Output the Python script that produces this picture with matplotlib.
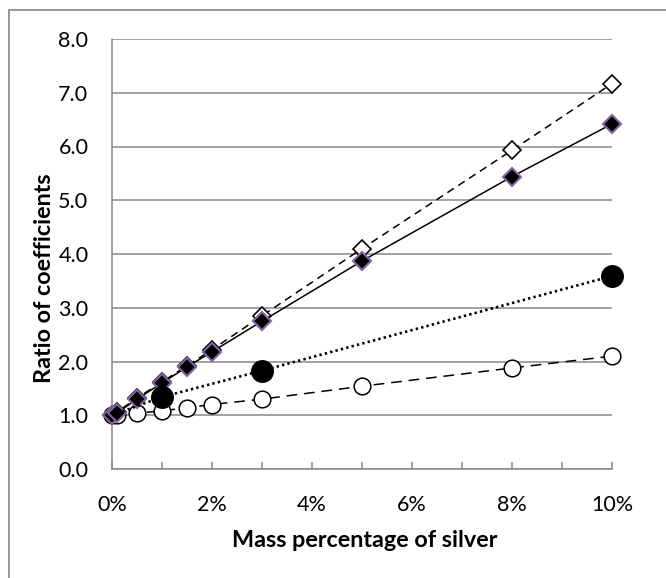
import matplotlib
matplotlib.use('Agg')
import matplotlib.pyplot as plt
from matplotlib.patches import Rectangle
from matplotlib.ticker import MultipleLocator, FuncFormatter

# Mass percentage of silver (%)
x_all = [0, 0.1, 0.5, 1, 1.5, 2, 3, 5, 8, 10]
x_filled_circle = [0, 1, 3, 10]

open_diamond = [1.00, 1.06, 1.32, 1.62, 1.92, 2.22, 2.85, 4.10, 5.93, 7.17]
filled_diamond = [1.00, 1.04, 1.30, 1.60, 1.90, 2.18, 2.75, 3.87, 5.44, 6.42]
filled_circle = [1.00, 1.34, 1.83, 3.59]
open_circle = [1.00, 1.00, 1.04, 1.08, 1.14, 1.20, 1.30, 1.54, 1.88, 2.10]

x_ticks = [0, 2, 4, 6, 8, 10]
y_ticks = [0, 1, 2, 3, 4, 5, 6, 7, 8]

plt.rcParams['font.family'] = ['Lato', 'DejaVu Sans']

grid_gray = '#888888'
purple = '#7f65a0'

fig = plt.figure(figsize=(6.66, 5.78), dpi=100)
ax = fig.add_axes([112/666, 1 - 469/578, 500/666, 430/578])

# outer chart frame (cropped on right and bottom)
fig.add_artist(Rectangle((9/666, -0.2), 2.0, 1.2 - 10/578, transform=fig.transFigure,
                         fill=False, edgecolor='#999999', lw=1.4))

# series
ax.plot(x_all, open_circle, color='black', lw=1.1, ls=(0, (7, 4.5)),
        marker='o', ms=12, mfc='white', mec='black', mew=1.1, zorder=3, clip_on=False)
ax.plot(x_all, open_diamond, color='black', lw=1.1, ls=(0, (5, 3.5)),
        marker='D', ms=9.5, mfc='white', mec='black', mew=1.2, zorder=4, clip_on=False)
ax.plot(x_all, filled_diamond, color='black', lw=1.1, ls='-',
        marker='D', ms=9.5, mfc='black', mec=purple, mew=1.5, zorder=5, clip_on=False)
# no marker shown at 0 % for this series
ax.plot(x_filled_circle, filled_circle, color='black', lw=1.9, ls=(0, (0.9, 1.2)),
        marker='o', ms=15.5, mfc='black', mec='black', markevery=[1, 2, 3],
        zorder=6, clip_on=False)

ax.set_xlim(0, 10)
ax.set_ylim(0, 8)
ax.set_xticks(x_ticks)
ax.xaxis.set_minor_locator(MultipleLocator(1))
ax.xaxis.set_major_formatter(FuncFormatter(lambda v, p: f'{v:.0f}%'))
ax.set_yticks(y_ticks)
ax.yaxis.set_major_formatter(FuncFormatter(lambda v, p: f'{v:.1f}'))

ax.grid(axis='y', color=grid_gray, lw=1.1)
ax.set_axisbelow(True)
for side in ['top', 'right']:
    ax.spines[side].set_visible(False)
for side in ['left', 'bottom']:
    ax.spines[side].set_color(grid_gray)
    ax.spines[side].set_linewidth(1.1)

ax.tick_params(axis='x', which='both', direction='in', length=5, width=1.1,
               color=grid_gray, pad=19, labelsize=15.5)
ax.tick_params(axis='y', length=0, pad=17, labelsize=15.5)

ax.set_xlabel('Mass percentage of silver', fontsize=16.8, fontweight='bold')
ax.xaxis.set_label_coords(0.505, -0.143)
ax.set_ylabel('Ratio of coefficients', fontsize=16.8, fontweight='bold')
ax.yaxis.set_label_coords(-0.115, 0.444)

fig.savefig('out.png', dpi=100)
